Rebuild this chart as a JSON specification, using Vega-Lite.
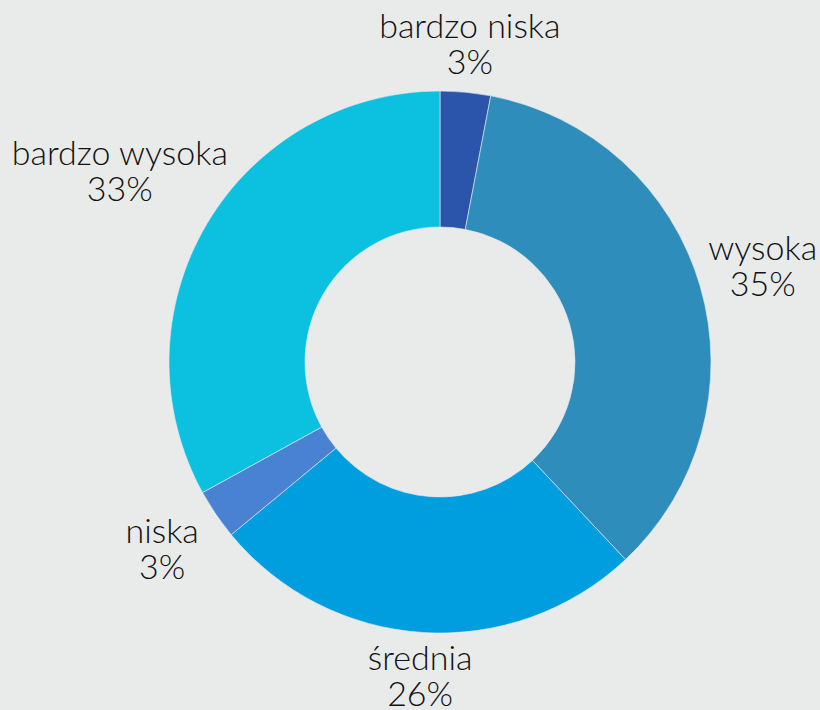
{
  "$schema": "https://vega.github.io/schema/vega-lite/v6.json",
  "width": 760,
  "height": 696,
  "autosize": "none",
  "padding": {"left": 60, "top": 14, "right": 0, "bottom": 0},
  "background": "#e9ebeb",
  "config": {"view": {"stroke": null}},
  "data": {
    "values": [
      {"k": 1, "kategoria": "bardzo niska", "udzial": 3, "etykieta": "3%"},
      {"k": 2, "kategoria": "wysoka", "udzial": 35, "etykieta": "35%"},
      {"k": 3, "kategoria": "średnia", "udzial": 26, "etykieta": "26%"},
      {"k": 4, "kategoria": "niska", "udzial": 3, "etykieta": "3%"},
      {"k": 5, "kategoria": "bardzo wysoka", "udzial": 33, "etykieta": "33%"}
    ]
  },
  "encoding": {
    "theta": {"field": "udzial", "type": "quantitative", "stack": true},
    "order": {"field": "k", "type": "quantitative"},
    "color": {
      "field": "kategoria",
      "type": "nominal",
      "legend": null,
      "scale": {
        "domain": ["bardzo niska", "wysoka", "średnia", "niska", "bardzo wysoka"],
        "range": ["#2a55ab", "#2e8dbb", "#009ddf", "#4a82d3", "#0cc0df"]
      }
    }
  },
  "layer": [
    {
      "mark": {"type": "arc", "outerRadius": 271, "innerRadius": 135, "stroke": "#e9ebeb", "strokeWidth": 0.6}
    },
    {
      "mark": {"type": "text", "radius": {"expr": "datum.kategoria == 'bardzo wysoka' ? 372 : (datum.kategoria == 'wysoka' || datum.kategoria == 'niska') ? 336 : 317"}, "dy": -18, "font": "Lato", "fontSize": 34, "fontWeight": 300},
      "encoding": {"text": {"field": "kategoria"}, "color": {"value": "#111111"}}
    },
    {
      "mark": {"type": "text", "radius": {"expr": "datum.kategoria == 'bardzo wysoka' ? 372 : (datum.kategoria == 'wysoka' || datum.kategoria == 'niska') ? 336 : 317"}, "dy": 18, "font": "Lato", "fontSize": 34, "fontWeight": 300},
      "encoding": {"text": {"field": "etykieta"}, "color": {"value": "#111111"}}
    }
  ]
}
